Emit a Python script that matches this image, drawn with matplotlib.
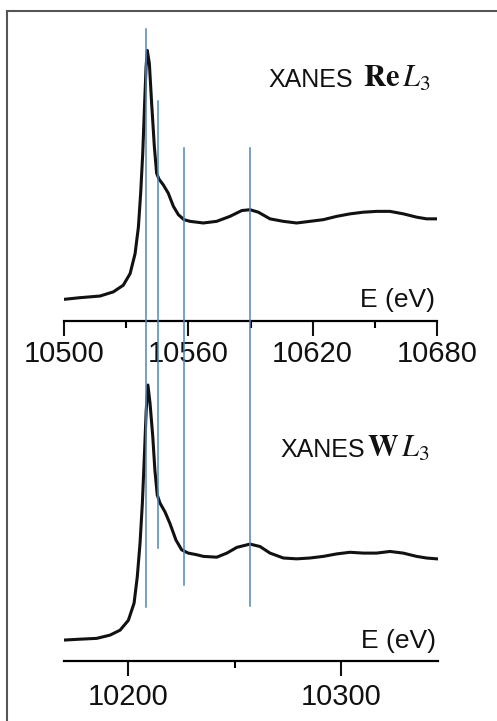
import matplotlib
matplotlib.use("Agg")
import matplotlib.pyplot as plt
from matplotlib.lines import Line2D
from matplotlib.ticker import MultipleLocator
import matplotlib.transforms as mtransforms

plt.rcParams['font.family'] = ['Liberation Sans', 'DejaVu Sans']
plt.rcParams['mathtext.fontset'] = 'stix'

# Re L3 edge (upper panel), normalised absorption
re_energy = [10500.0, 10507.7, 10517.4, 10523.8, 10528.6, 10531.9, 10534.3, 10535.9,
             10537.0, 10538.0, 10538.9, 10539.6, 10540.2, 10541.2, 10542.3, 10543.6,
             10544.7, 10545.8, 10547.9, 10550.3, 10552.8, 10555.2, 10557.9, 10560.8,
             10567.2, 10573.7, 10580.1, 10585.8, 10589.8, 10593.8, 10599.4, 10605.8,
             10612.3, 10618.7, 10625.1, 10631.6, 10638.0, 10644.4, 10650.9, 10657.3,
             10663.8, 10670.2, 10675.0, 10679.9]
re_mu = [0.02, 0.04, 0.06, 0.11, 0.19, 0.33, 0.57, 0.89,
         1.30, 1.78, 2.38, 2.82, 3.02, 2.86, 2.38, 1.86,
         1.54, 1.47, 1.40, 1.30, 1.14, 1.04, 0.98, 0.96,
         0.94, 0.96, 1.02, 1.09, 1.10, 1.07, 0.99, 0.96,
         0.94, 0.96, 0.98, 1.02, 1.05, 1.07, 1.08, 1.08,
         1.05, 1.01, 0.99, 0.99]

# W L3 edge (lower panel)
w_energy = [10170.2, 10177.2, 10185.1, 10191.4, 10196.1, 10200.0, 10202.7, 10204.2,
            10205.5, 10206.6, 10207.6, 10208.4, 10209.2, 10210.2, 10211.5, 10212.5,
            10213.6, 10214.9, 10217.3, 10219.6, 10222.4, 10225.1, 10228.2, 10232.2,
            10235.3, 10241.6, 10246.4, 10251.1, 10257.3, 10262.0, 10266.7, 10273.0,
            10279.3, 10285.5, 10291.8, 10298.1, 10304.3, 10310.6, 10316.9, 10323.2,
            10329.4, 10335.7, 10340.4, 10345.2]
w_mu = [0.00, 0.01, 0.02, 0.06, 0.12, 0.24, 0.45, 0.77,
        1.18, 1.67, 2.28, 2.80, 3.11, 2.89, 2.48, 2.07,
        1.77, 1.67, 1.56, 1.42, 1.22, 1.10, 1.06, 1.04,
        1.02, 1.01, 1.06, 1.13, 1.17, 1.14, 1.06, 1.00,
        0.99, 1.00, 1.02, 1.05, 1.07, 1.06, 1.06, 1.08,
        1.06, 1.02, 1.00, 0.99]

# feature markers (Re energy scale)
marker_energy = [10539.6, 10545.6, 10557.7, 10589.8]

re_ticks = [10500, 10560, 10620, 10680]
w_ticks = [10200, 10300]

W, H = 497, 721
fig = plt.figure(figsize=(W / 100, H / 100), dpi=100)

ax1 = fig.add_axes([64 / W, 1 - 321 / H, 373 / W, 301 / H])
ax2 = fig.add_axes([64 / W, 1 - 661 / H, 374 / W, 291 / H])

ax1.plot(re_energy, re_mu, color='#111111', lw=2.2, solid_joinstyle='round')
ax2.plot(w_energy, w_mu, color='#111111', lw=2.2, solid_joinstyle='round')

ax1.set_xlim(10500, 10680)
ax1.set_ylim(-0.241, 3.386)
ax2.set_xlim(10169.7, 10345.8)
ax2.set_ylim(-0.256, 3.293)

for ax, ticks, minor, pad in [(ax1, re_ticks, 30, 3.0), (ax2, w_ticks, 50, 5.0)]:
    for s in ['left', 'right', 'top']:
        ax.spines[s].set_visible(False)
    ax.spines['bottom'].set_linewidth(1.6)
    ax.set_yticks([])
    ax.set_xticks(ticks)
    ax.xaxis.set_minor_locator(MultipleLocator(minor))
    ax.tick_params(axis='x', which='major', length=10.5, width=1.5, direction='out',
                   labelsize=21, pad=pad, colors='#111111')
    ax.tick_params(axis='x', which='minor', length=5, width=1.5, direction='out')
    ax.patch.set_alpha(0)
    ax.text(0.995, 0.045, 'E (eV)', transform=ax.transAxes, ha='right',
            va='baseline', fontsize=19, color='#111111')

ax1.text(0.547, 0.777, 'XANES', transform=ax1.transAxes,
         ha='left', va='baseline', fontsize=18, color='#111111')
ax1.text(0.802, 0.777, r'$\mathbf{Re}\,L_3$', transform=ax1.transAxes,
         ha='left', va='baseline', fontsize=22, color='#111111')
ax2.text(0.578, 0.701, 'XANES', transform=ax2.transAxes,
         ha='left', va='baseline', fontsize=18, color='#111111')
ax2.text(0.810, 0.701, r'$\mathbf{W}\,L_3$', transform=ax2.transAxes,
         ha='left', va='baseline', fontsize=22, color='#111111')

# vertical guide lines spanning both panels
trans = mtransforms.blended_transform_factory(ax1.transData, fig.transFigure)
tops = [29, 101, 148, 148]
bottoms = [607, 548, 585, 606]
for e, t, b in zip(marker_energy, tops, bottoms):
    fig.add_artist(Line2D([e, e], [1 - t / H, 1 - b / H], transform=trans,
                          color='#4f86bd', lw=1.1, zorder=5))

# frame
fig.add_artist(Line2D([7 / W, 7 / W], [0, 1 - 11 / H], color='#555555', lw=1.5))
fig.add_artist(Line2D([7 / W, 1], [1 - 11 / H, 1 - 11 / H], color='#555555', lw=1.5))

fig.savefig('out.png', dpi=100)
